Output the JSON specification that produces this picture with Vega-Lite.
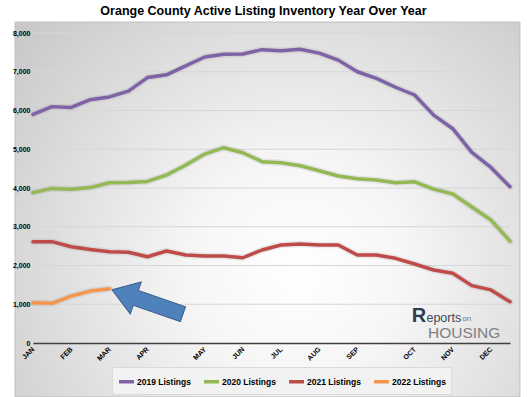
{
  "$schema": "https://vega.github.io/schema/vega-lite/v6.json",
  "width": 477,
  "height": 310,
  "autosize": "none",
  "padding": {"left": 33, "top": 33, "right": 17, "bottom": 54},
  "background": "#ffffff",
  "title": {"text": "Orange County Active Listing Inventory Year Over Year", "font": "Liberation Sans", "fontSize": 12.5, "fontWeight": "bold", "color": "#000000", "offset": 4, "dx": -8},
  "config": {
    "view": {"stroke": null},
    "axis": {"labelFont": "Liberation Sans", "labelFontWeight": "bold", "labelFontSize": 7, "labelColor": "#000000", "ticks": false, "grid": false},
    "axisY": {"labelOverlap": false, "labelBound": false, "tickCount": 9},
    "legend": {"labelFont": "Liberation Sans", "labelFontWeight": "bold", "labelFontSize": 8.5, "labelColor": "#000000"}
  },
  "datasets": {
    "frame": [{"x0": -0.94, "x1": 25.52, "y0": 8282, "y1": -1393}],
    "grid": [{"g": 1000}, {"g": 2000}, {"g": 3000}, {"g": 4000}, {"g": 5000}, {"g": 6000}, {"g": 7000}, {"g": 8000}],
    "series": [
      {"i": 0, "s": "2019 Listings", "v": 5900}, {"i": 1, "s": "2019 Listings", "v": 6100}, {"i": 2, "s": "2019 Listings", "v": 6080}, {"i": 3, "s": "2019 Listings", "v": 6280}, {"i": 4, "s": "2019 Listings", "v": 6350}, {"i": 5, "s": "2019 Listings", "v": 6500}, {"i": 6, "s": "2019 Listings", "v": 6850}, {"i": 7, "s": "2019 Listings", "v": 6920}, {"i": 8, "s": "2019 Listings", "v": 7150}, {"i": 9, "s": "2019 Listings", "v": 7380}, {"i": 10, "s": "2019 Listings", "v": 7450}, {"i": 11, "s": "2019 Listings", "v": 7460}, {"i": 12, "s": "2019 Listings", "v": 7570}, {"i": 13, "s": "2019 Listings", "v": 7540}, {"i": 14, "s": "2019 Listings", "v": 7580}, {"i": 15, "s": "2019 Listings", "v": 7480}, {"i": 16, "s": "2019 Listings", "v": 7300}, {"i": 17, "s": "2019 Listings", "v": 7000}, {"i": 18, "s": "2019 Listings", "v": 6830}, {"i": 19, "s": "2019 Listings", "v": 6600}, {"i": 20, "s": "2019 Listings", "v": 6400}, {"i": 21, "s": "2019 Listings", "v": 5880}, {"i": 22, "s": "2019 Listings", "v": 5530}, {"i": 23, "s": "2019 Listings", "v": 4920}, {"i": 24, "s": "2019 Listings", "v": 4530}, {"i": 25, "s": "2019 Listings", "v": 4030},
      {"i": 0, "s": "2020 Listings", "v": 3880}, {"i": 1, "s": "2020 Listings", "v": 3990}, {"i": 2, "s": "2020 Listings", "v": 3970}, {"i": 3, "s": "2020 Listings", "v": 4010}, {"i": 4, "s": "2020 Listings", "v": 4135}, {"i": 5, "s": "2020 Listings", "v": 4145}, {"i": 6, "s": "2020 Listings", "v": 4170}, {"i": 7, "s": "2020 Listings", "v": 4335}, {"i": 8, "s": "2020 Listings", "v": 4590}, {"i": 9, "s": "2020 Listings", "v": 4875}, {"i": 10, "s": "2020 Listings", "v": 5040}, {"i": 11, "s": "2020 Listings", "v": 4910}, {"i": 12, "s": "2020 Listings", "v": 4680}, {"i": 13, "s": "2020 Listings", "v": 4650}, {"i": 14, "s": "2020 Listings", "v": 4575}, {"i": 15, "s": "2020 Listings", "v": 4445}, {"i": 16, "s": "2020 Listings", "v": 4310}, {"i": 17, "s": "2020 Listings", "v": 4240}, {"i": 18, "s": "2020 Listings", "v": 4205}, {"i": 19, "s": "2020 Listings", "v": 4135}, {"i": 20, "s": "2020 Listings", "v": 4160}, {"i": 21, "s": "2020 Listings", "v": 3970}, {"i": 22, "s": "2020 Listings", "v": 3845}, {"i": 23, "s": "2020 Listings", "v": 3510}, {"i": 24, "s": "2020 Listings", "v": 3175}, {"i": 25, "s": "2020 Listings", "v": 2630},
      {"i": 0, "s": "2021 Listings", "v": 2615}, {"i": 1, "s": "2021 Listings", "v": 2615}, {"i": 2, "s": "2021 Listings", "v": 2485}, {"i": 3, "s": "2021 Listings", "v": 2415}, {"i": 4, "s": "2021 Listings", "v": 2355}, {"i": 5, "s": "2021 Listings", "v": 2340}, {"i": 6, "s": "2021 Listings", "v": 2225}, {"i": 7, "s": "2021 Listings", "v": 2375}, {"i": 8, "s": "2021 Listings", "v": 2270}, {"i": 9, "s": "2021 Listings", "v": 2245}, {"i": 10, "s": "2021 Listings", "v": 2245}, {"i": 11, "s": "2021 Listings", "v": 2200}, {"i": 12, "s": "2021 Listings", "v": 2400}, {"i": 13, "s": "2021 Listings", "v": 2530}, {"i": 14, "s": "2021 Listings", "v": 2555}, {"i": 15, "s": "2021 Listings", "v": 2530}, {"i": 16, "s": "2021 Listings", "v": 2530}, {"i": 17, "s": "2021 Listings", "v": 2270}, {"i": 18, "s": "2021 Listings", "v": 2270}, {"i": 19, "s": "2021 Listings", "v": 2185}, {"i": 20, "s": "2021 Listings", "v": 2040}, {"i": 21, "s": "2021 Listings", "v": 1885}, {"i": 22, "s": "2021 Listings", "v": 1800}, {"i": 23, "s": "2021 Listings", "v": 1480}, {"i": 24, "s": "2021 Listings", "v": 1370}, {"i": 25, "s": "2021 Listings", "v": 1065},
      {"i": 0, "s": "2022 Listings", "v": 1040}, {"i": 1, "s": "2022 Listings", "v": 1025}, {"i": 2, "s": "2022 Listings", "v": 1210}, {"i": 3, "s": "2022 Listings", "v": 1340}, {"i": 4, "s": "2022 Listings", "v": 1400}
    ],
    "arrow": [{"ai": 6.0, "av": 1060}],
    "logo": [
      {"li": 19.85, "lv": 545, "t": "R", "k": "r"},
      {"li": 20.62, "lv": 545, "t": "eports", "k": "e"},
      {"li": 22.5, "lv": 570, "t": "on", "k": "o"},
      {"li": 20.7, "lv": 140, "t": "HOUSING", "k": "h"}
    ]
  },
  "layer": [
    {
      "data": {"name": "frame"},
      "mark": {"type": "rect", "stroke": "#bdbdbd", "strokeWidth": 1,
        "fill": {"gradient": "radial", "x1": 0.56, "y1": 0.62, "r1": 0, "x2": 0.56, "y2": 0.62, "r2": 0.72,
          "stops": [{"offset": 0, "color": "#ffffff"}, {"offset": 0.3, "color": "#f6f6f6"}, {"offset": 1, "color": "#c9c9c9"}]}},
      "encoding": {
        "x": {"field": "x0", "type": "quantitative", "scale": {"domain": [0, 25], "nice": false, "zero": false},
          "axis": {"title": null, "zindex": 2, "values": [0, 2, 4, 6, 9, 11, 13, 15, 17, 20, 22, 24], "labelExpr": "['JAN','FEB','MAR','APR','MAY','JUN','JUL','AUG','SEP','OCT','NOV','DEC'][indexof([0,2,4,6,9,11,13,15,17,20,22,24], datum.value)]", "labelAngle": -45, "labelAlign": "right", "labelBaseline": "middle", "labelPadding": 5, "labelOverlap": false, "domainColor": "#404040", "domainWidth": 1.5}},
        "x2": {"field": "x1"},
        "y": {"field": "y0", "type": "quantitative", "scale": {"domain": [0, 8000], "nice": false},
          "axis": {"title": null, "zindex": 2, "values": [0, 1000, 2000, 3000, 4000, 5000, 6000, 7000, 8000], "labelExpr": "format(datum.value, ',')", "labelOverlap": false, "domain": false, "labelPadding": 3}},
        "y2": {"field": "y1"}
      }
    },
    {
      "data": {"name": "grid"},
      "mark": {"type": "rule", "color": "#d6d6d6", "strokeWidth": 1},
      "encoding": {"y": {"field": "g", "type": "quantitative",
          "axis": {"title": null, "zindex": 2, "values": [0, 1000, 2000, 3000, 4000, 5000, 6000, 7000, 8000], "labelExpr": "format(datum.value, ',')", "labelOverlap": false, "domain": false, "labelPadding": 3}}}
    },
    {
      "data": {"name": "series"},
      "mark": {"type": "line", "strokeWidth": 6.5, "opacity": 0.1, "color": "#505050", "strokeCap": "round", "strokeJoin": "round"},
      "encoding": {
        "x": {"field": "i", "type": "quantitative",
          "axis": {"title": null, "zindex": 2, "values": [0, 2, 4, 6, 9, 11, 13, 15, 17, 20, 22, 24], "labelExpr": "['JAN','FEB','MAR','APR','MAY','JUN','JUL','AUG','SEP','OCT','NOV','DEC'][indexof([0,2,4,6,9,11,13,15,17,20,22,24], datum.value)]", "labelAngle": -45, "labelAlign": "right", "labelBaseline": "middle", "labelPadding": 5, "labelOverlap": false, "domainColor": "#404040", "domainWidth": 1.5}},
        "y": {"field": "v", "type": "quantitative",
          "axis": {"title": null, "zindex": 2, "values": [0, 1000, 2000, 3000, 4000, 5000, 6000, 7000, 8000], "labelExpr": "format(datum.value, ',')", "labelOverlap": false, "domain": false, "labelPadding": 3}},
        "detail": {"field": "s"}
      }
    },
    {
      "data": {"name": "series"},
      "mark": {"type": "line", "strokeWidth": 3.5, "strokeCap": "round", "strokeJoin": "round"},
      "encoding": {
        "x": {"field": "i", "type": "quantitative",
          "axis": {"title": null, "zindex": 2, "values": [0, 2, 4, 6, 9, 11, 13, 15, 17, 20, 22, 24], "labelExpr": "['JAN','FEB','MAR','APR','MAY','JUN','JUL','AUG','SEP','OCT','NOV','DEC'][indexof([0,2,4,6,9,11,13,15,17,20,22,24], datum.value)]", "labelAngle": -45, "labelAlign": "right", "labelBaseline": "middle", "labelPadding": 5, "labelOverlap": false, "domainColor": "#404040", "domainWidth": 1.5}},
        "y": {"field": "v", "type": "quantitative",
          "axis": {"title": null, "zindex": 2, "values": [0, 1000, 2000, 3000, 4000, 5000, 6000, 7000, 8000], "labelExpr": "format(datum.value, ',')", "labelOverlap": false, "domain": false, "labelPadding": 3}},
        "color": {"field": "s", "type": "nominal",
          "scale": {"domain": ["2019 Listings", "2020 Listings", "2021 Listings", "2022 Listings"], "range": ["#7d62a6", "#93b854", "#bf4b48", "#f5964c"]},
          "legend": {"title": null, "zindex": 2, "orient": "none", "legendX": 79, "legendY": 334, "direction": "horizontal", "columns": 4, "symbolType": "stroke", "symbolSize": 225, "symbolStrokeWidth": 3.5, "labelOffset": 1, "columnPadding": 6, "padding": 5, "fillColor": "#f2f2f2", "strokeColor": "#dadada"}}
      }
    },
    {
      "data": {"name": "arrow"},
      "mark": {"type": "point", "filled": true, "shape": "M -1 0 L -0.33 -0.45 L -0.33 -0.21 L 1 -0.21 L 1 0.21 L -0.33 0.21 L -0.33 0.45 Z", "size": 5625, "angle": 19, "fill": "#4f81bd", "stroke": "#385d8a", "strokeWidth": 1, "opacity": 1},
      "encoding": {
        "x": {"field": "ai", "type": "quantitative"},
        "y": {"field": "av", "type": "quantitative"}
      }
    },
    {
      "data": {"name": "logo"},
      "transform": [{"filter": "datum.k == 'r'"}],
      "mark": {"type": "text", "align": "left", "baseline": "alphabetic", "font": "Liberation Sans", "fontWeight": "bold", "fontSize": 20, "color": "#2f3d4f"},
      "encoding": {"x": {"field": "li", "type": "quantitative"}, "y": {"field": "lv", "type": "quantitative"}, "text": {"field": "t"}}
    },
    {
      "data": {"name": "logo"},
      "transform": [{"filter": "datum.k == 'e'"}],
      "mark": {"type": "text", "align": "left", "baseline": "alphabetic", "font": "Liberation Sans", "fontSize": 12.5, "color": "#3b4858"},
      "encoding": {"x": {"field": "li", "type": "quantitative"}, "y": {"field": "lv", "type": "quantitative"}, "text": {"field": "t"}}
    },
    {
      "data": {"name": "logo"},
      "transform": [{"filter": "datum.k == 'o'"}],
      "mark": {"type": "text", "align": "left", "baseline": "alphabetic", "font": "Liberation Sans", "fontSize": 8, "color": "#6d7682"},
      "encoding": {"x": {"field": "li", "type": "quantitative"}, "y": {"field": "lv", "type": "quantitative"}, "text": {"field": "t"}}
    },
    {
      "data": {"name": "logo"},
      "transform": [{"filter": "datum.k == 'h'"}],
      "mark": {"type": "text", "align": "left", "baseline": "alphabetic", "font": "Liberation Sans", "fontSize": 15.5, "color": "#808080"},
      "encoding": {"x": {"field": "li", "type": "quantitative"}, "y": {"field": "lv", "type": "quantitative"}, "text": {"field": "t"}}
    }
  ]
}
